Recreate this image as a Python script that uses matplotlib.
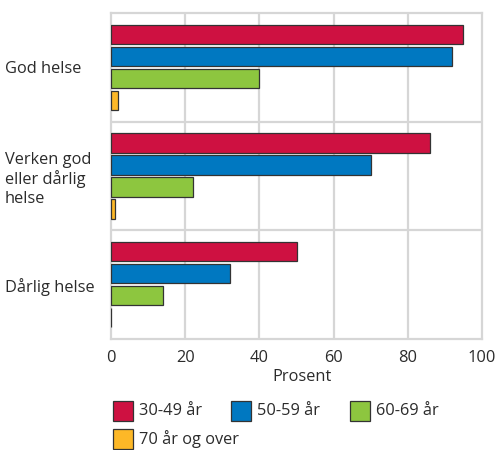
import matplotlib
matplotlib.use("Agg")
import matplotlib.pyplot as plt
from matplotlib.patches import Rectangle
import numpy as np

plt.rcParams['font.family'] = ['Open Sans', 'DejaVu Sans']

categories = ["God helse", "Verken god\neller dårlig\nhelse", "Dårlig helse"]
series_names = ["30-49 år", "50-59 år", "60-69 år", "70 år og over"]
v_30_49 = [95, 86, 50]
v_50_59 = [92, 70, 32]
v_60_69 = [40, 22, 14]
v_70_plus = [2, 1, 0]
x_ticks = [0, 20, 40, 60, 80, 100]
x_label = "Prosent"

colors = ["#CE1141", "#0078C1", "#8DC63F", "#FDB827"]
series = [v_30_49, v_50_59, v_60_69, v_70_plus]
text_col = "#2b2b2b"

W, H = 497, 450
fig = plt.figure(figsize=(W / 100, H / 100), dpi=100)
ax = fig.add_axes([111 / W, 1 - 339 / H, 371 / W, 326 / H])

n_groups = len(categories)
step = 0.2025
bar_h = 0.18
centers = np.arange(n_groups) + 0.5
for i, (vals, col) in enumerate(zip(series, colors)):
    y = centers + (i - 1.5) * step
    ax.barh(y, vals, height=bar_h, color=col, edgecolor="#333333",
            linewidth=0.9, zorder=3)

ax.set_xlim(0, 100)
ax.set_ylim(n_groups, 0)
ax.set_xticks(x_ticks)
ax.set_xticklabels([str(t) for t in x_ticks])
ax.set_yticks(centers)
ax.set_yticklabels(categories, ha="left", multialignment="left")
ax.tick_params(axis="y", length=0, pad=106 * 0.72, labelsize=11.8, labelcolor=text_col)
ax.tick_params(axis="x", length=0, pad=8.2, labelsize=11.8, labelcolor=text_col)
ax.set_xlabel(x_label, fontsize=11.8, color=text_col, va="top")
ax.xaxis.set_label_coords(0.515, -0.092)

grid_col = "#d6d6d6"
for t in x_ticks[1:-1]:
    ax.axvline(t, color=grid_col, lw=1.6, zorder=1)
for b in range(1, n_groups):
    ax.axhline(b, color=grid_col, lw=1.6, zorder=1)
for s in ax.spines.values():
    s.set_color(grid_col)
    s.set_linewidth(1.6)
    s.set_zorder(1)

# legend drawn in figure pixel coordinates
def px(x, y):
    return x / W, 1 - y / H

legend_pos = [(113, 401), (231, 401), (350, 401), (113, 429)]
for name, col, (lx, ly) in zip(series_names, colors, legend_pos):
    x0, y0 = px(lx, ly + 20)
    fig.add_artist(Rectangle((x0, y0), 20 / W, 20 / H, transform=fig.transFigure,
                             facecolor=col, edgecolor="#333333", linewidth=0.9))
    tx, ty = px(lx + 26, ly + 10)
    fig.text(tx, ty, name, fontsize=11.8, color=text_col, va="center", ha="left")

fig.savefig("out.png", dpi=100)
